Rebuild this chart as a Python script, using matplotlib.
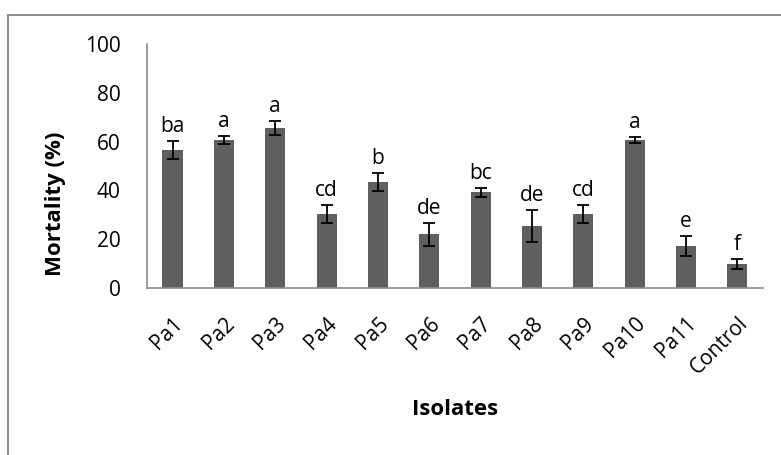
import numpy as np
import matplotlib.pyplot as plt
from matplotlib.lines import Line2D

plt.rcParams['font.family'] = ['Open Sans', 'DejaVu Sans']

isolates = ['Pa1', 'Pa2', 'Pa3', 'Pa4', 'Pa5', 'Pa6', 'Pa7', 'Pa8', 'Pa9',
            'Pa10', 'Pa11', 'Control']
mortality = [56.6, 60.7, 65.5, 30.3, 43.4, 22.1, 39.3, 25.4, 30.3, 60.7, 17.2, 9.8]
err = [3.7, 1.6, 2.9, 3.7, 3.7, 4.7, 1.8, 6.6, 3.7, 1.4, 4.0, 2.0]
letters = ['ba', 'a', 'a', 'cd', 'b', 'de', 'bc', 'de', 'cd', 'a', 'e', 'f']

fig = plt.figure(figsize=(7.81, 4.55), dpi=100)
ax = fig.add_axes([0.188, 0.367, 0.789, 0.536])

x = np.arange(len(isolates))
ax.bar(x, mortality, width=0.39, color='#5f5f5f', zorder=2)
ax.errorbar(x, mortality, yerr=err, fmt='none', ecolor='black', elinewidth=1.3,
            capsize=4.5, capthick=1.3, zorder=3)

# significance letters above the error bars
for i in range(len(x)):
    ax.annotate(letters[i], (x[i], mortality[i] + err[i]), xytext=(0, 6.5),
                textcoords='offset points', ha='center', va='baseline', fontsize=15)

ax.set_xlim(-0.5, len(x) - 0.5)
ax.set_ylim(0, 100)
ax.set_yticks([0, 20, 40, 60, 80, 100])
ax.set_xticks(x)
ax.set_xticklabels(isolates, rotation=45, ha='right', rotation_mode='anchor')
ax.tick_params(axis='both', length=0, labelsize=15)
ax.tick_params(axis='y', pad=19)
ax.tick_params(axis='x', pad=18)

for s in ['top', 'right']:
    ax.spines[s].set_visible(False)
ax.spines['left'].set_color('#8c8c8c')
ax.spines['bottom'].set_color('#8c8c8c')
ax.spines['left'].set_linewidth(1.2)
ax.spines['bottom'].set_linewidth(1.2)

ax.set_ylabel('Mortality (%)', fontsize=16, fontweight='bold', va='center')
ax.yaxis.set_label_coords(-0.149, 0.346)
fig.text(0.583, 0.099, 'Isolates', ha='center', va='center', fontsize=16,
         fontweight='bold')

# outer chart border (only left and top edges visible)
fig.add_artist(Line2D([8 / 781, 8 / 781], [0, 1 - 15 / 455], color='#8c8c8c',
                      lw=1.4, transform=fig.transFigure))
fig.add_artist(Line2D([8 / 781, 1], [1 - 15 / 455, 1 - 15 / 455], color='#8c8c8c',
                      lw=1.4, transform=fig.transFigure))

fig.savefig('out.png', dpi=100)
